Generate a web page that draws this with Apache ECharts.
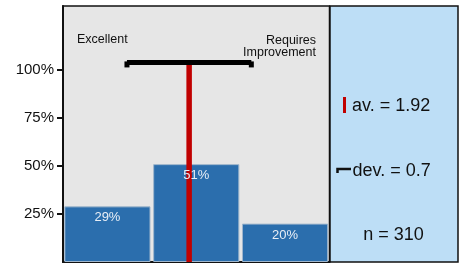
<!DOCTYPE html>
<html><head><meta charset="utf-8">
<script src="https://cdn.jsdelivr.net/npm/echarts@6/dist/echarts.min.js"></script>
<style>html,body{margin:0;padding:0;background:#fff}#c{width:466px;height:265px}</style>
</head><body><div id="c"></div>
<script>
var categories = ['Excellent', 'Average', 'Requires Improvement'];
var percentValues = [29, 51, 20];
var yTickValues = [25, 50, 75, 100];
var meanValue = 1.92;
var sdValue = 0.7;
var nValue = 310;
var errorBarLevel = 104;

var FONT = '"Liberation Sans", Arial, sans-serif';
var chart = echarts.init(document.getElementById('c'), null, {renderer: 'canvas'});

var option = {
  animation: false,
  backgroundColor: '#fff',
  textStyle: {fontFamily: FONT},
  grid: [{
    left: 63, top: 6, width: 266.5, height: 256,
    show: true, backgroundColor: '#e6e6e6', borderColor: '#111', borderWidth: 1.5
  }],
  xAxis: [{
    type: 'category', data: categories, gridIndex: 0,
    axisLine: {show: true, lineStyle: {color: '#111', width: 2}},
    axisTick: {show: false}, axisLabel: {show: false}, splitLine: {show: false}
  }, {
    type: 'value', min: 0.5, max: 3.5, gridIndex: 0, show: false
  }],
  yAxis: [{
    type: 'value', min: 0, max: 133.4, gridIndex: 0,
    axisLine: {show: true, lineStyle: {color: '#111', width: 2}},
    axisTick: {show: true, length: 6, customValues: yTickValues, lineStyle: {color: '#111', width: 2}},
    axisLabel: {customValues: yTickValues, formatter: function (v) { return v + '%'; },
      fontSize: 15, color: '#111', margin: 9, fontFamily: FONT},
    splitLine: {show: false}
  }],
  series: [{
    type: 'bar', xAxisIndex: 0, yAxisIndex: 0,
    data: percentValues, barCategoryGap: '3%', barGap: '-100%',
    itemStyle: {color: '#2b6ead', borderColor: '#9fb6cc', borderWidth: 1},
    z: 2
  }, {
    type: 'bar', xAxisIndex: 0, yAxisIndex: 0,
    data: percentValues, barCategoryGap: '3%', barGap: '-100%',
    itemStyle: {color: 'rgba(0,0,0,0)'},
    label: {show: true, position: 'insideTop', distance: 5, color: '#e8eef6', fontSize: 13,
      fontFamily: FONT, formatter: function (p) { return p.value + '%'; }},
    silent: true,
    z: 6
  }, {
    type: 'line', xAxisIndex: 1, yAxisIndex: 0,
    data: [[meanValue, 0], [meanValue, errorBarLevel - 1]],
    symbol: 'none', lineStyle: {color: '#c00000', width: 5.5}, z: 3
  }, {
    type: 'line', xAxisIndex: 1, yAxisIndex: 0,
    data: [[meanValue - sdValue, errorBarLevel], [meanValue + sdValue, errorBarLevel]],
    symbol: 'rect', symbolSize: [5, 6], symbolOffset: [0, 2],
    itemStyle: {color: '#000'},
    lineStyle: {color: '#000', width: 5}, z: 4
  }],
  graphic: [
    {type: 'rect', shape: {x: 330, y: 6, width: 128, height: 256},
     style: {fill: '#bddef6', stroke: '#111', lineWidth: 1.5}, z: 0},
    {type: 'text', x: 77, y: 39.5, style: {text: categories[0], font: '12.5px ' + FONT,
      fill: '#111', textVerticalAlign: 'middle'}},
    {type: 'text', x: 316, y: 46.5, style: {text: 'Requires\nImprovement', font: '12.5px ' + FONT,
      fill: '#111', textAlign: 'right', textVerticalAlign: 'middle', lineHeight: 12.5}},
    {type: 'rect', shape: {x: 343, y: 97, width: 3, height: 16}, style: {fill: '#c00000'}},
    {type: 'text', x: 352, y: 106, style: {text: 'av. = ' + meanValue, font: '18px ' + FONT,
      fill: '#111', textVerticalAlign: 'middle'}},
    {type: 'polyline', shape: {points: [[337.5, 173], [337.5, 169], [351, 169]]},
      style: {stroke: '#111', lineWidth: 2.5, fill: null}},
    {type: 'text', x: 352.5, y: 171.5, style: {text: 'dev. = ' + sdValue, font: '18px ' + FONT,
      fill: '#111', textVerticalAlign: 'middle'}},
    {type: 'text', x: 393.5, y: 235, style: {text: 'n = ' + nValue, font: '18px ' + FONT,
      fill: '#111', textAlign: 'center', textVerticalAlign: 'middle'}}
  ]
};
chart.setOption(option);
</script>
</body></html>
